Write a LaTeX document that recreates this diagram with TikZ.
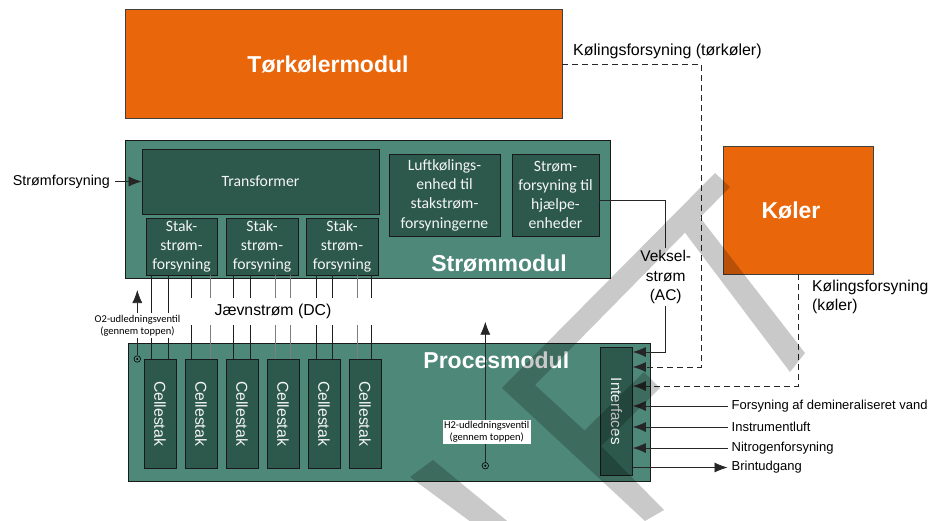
\documentclass[tikz,border=0pt]{standalone}
\usepackage{fontspec}
\usepackage{graphicx}
\setmainfont{Liberation Sans}
\newfontfamily\calfont{Carlito}
\usetikzlibrary{arrows.meta,calc}
\definecolor{orng}{RGB}{234,102,10}
\definecolor{tealm}{RGB}{78,136,120}
\definecolor{dkgrn}{RGB}{44,89,75}
\definecolor{lnblk}{RGB}{30,30,30}
\definecolor{lngry}{RGB}{125,125,125}
\definecolor{txtw}{RGB}{245,245,245}
\tikzset{
  modbox/.style={draw=black!90, line width=0.8pt, fill=tealm, inner sep=0pt},
  orbox/.style={draw=black!75, line width=0.7pt, fill=orng, inner sep=0pt},
  inbox/.style={draw=black!90, line width=0.8pt, fill=dkgrn, text=txtw, inner sep=0pt, align=center, font=\calfont\fontsize{15.7}{19.3}\selectfont},
  ttl/.style={text=white, font=\bfseries\fontsize{23}{27}\selectfont, inner sep=0pt},
  cellbox/.style={draw=black!90, line width=0.8pt, fill=dkgrn, text=txtw, inner sep=0pt, minimum width=32pt, minimum height=109pt, font=\fontsize{15.8}{18}\selectfont},
  conn/.style={draw=black!85, line width=0.7pt},
  arr/.style={-{Latex[length=13pt,width=10pt]}},
  dsh/.style={dash pattern=on 6pt off 4pt},
  lbl/.style={font=\fontsize{13}{15.5}\selectfont, inner xsep=4pt, inner ysep=2pt, anchor=west},
  valve/.style={circle, draw=black, line width=0.6pt, minimum size=6.5pt, inner sep=0pt, path picture={\fill[black] (path picture bounding box.center) circle (1.1pt);}},
  vlbl/.style={fill=white, align=center, inner sep=1.5pt, font=\calfont\fontsize{10.5}{12.3}\selectfont},
  wmark/.style={fill=black, fill opacity=0.21, draw=none},
}
\begin{document}
\begin{tikzpicture}[x=1pt,y=-1pt]
\useasboundingbox[fill=white] (0,0) rectangle (943,520);

% Tørkølermodul and Køler
\node[orbox, minimum width=437pt, minimum height=109pt] (tork) at (343.5,64) {};
\node[ttl] (torktxt) at (328,64) {Tørkølermodul};
\node[orbox, minimum width=150pt, minimum height=128pt] (koler) at (798,210) {};
\node[ttl] (kolertxt) at (791,210) {Køler};

% Strømmodul
\node[modbox, minimum width=485pt, minimum height=138pt] (strom) at (367.5,209) {};
\node[inbox, minimum width=237pt, minimum height=65pt] (transf) at (260.5,181.5) {Transformer};
\node[inbox, minimum width=71pt, minimum height=57pt] (stak1) at (181.5,246.5) {Stak-\\strøm-\\forsyning};
\node[inbox, minimum width=72pt, minimum height=57pt] (stak2) at (262,246.5) {Stak-\\strøm-\\forsyning};
\node[inbox, minimum width=72pt, minimum height=57pt] (stak3) at (342,246.5) {Stak-\\strøm-\\forsyning};
\node[inbox, minimum width=111pt, minimum height=82pt] (luft) at (444.5,195) {Luftkølings-\\enhed til\\stakstrøm-\\forsyningerne};
\node[inbox, minimum width=87pt, minimum height=82pt] (hjaelpe) at (555.5,195) {Strøm-\\forsyning til\\hjælpe-\\enheder};
\node[ttl] (stromtxt) at (499,263) {Strømmodul};

% Procesmodul
\node[modbox, minimum width=522pt, minimum height=138pt] (proces) at (389,412) {};
\node[ttl] (procestxt) at (496.3,360.7) {Procesmodul};
\node[cellbox] (cell1) at (160,413.5) {\rotatebox{-90}{Cellestak}};
\node[cellbox] (cell2) at (201,413.5) {\rotatebox{-90}{Cellestak}};
\node[cellbox] (cell3) at (242,413.5) {\rotatebox{-90}{Cellestak}};
\node[cellbox] (cell4) at (283,413.5) {\rotatebox{-90}{Cellestak}};
\node[cellbox] (cell5) at (324,413.5) {\rotatebox{-90}{Cellestak}};
\node[cellbox] (cell6) at (365,413.5) {\rotatebox{-90}{Cellestak}};
\node[cellbox, minimum height=127.5pt, font=\fontsize{15.2}{18}\selectfont] (interf) at (616.5,411.25) {\rotatebox{-90}{Interfaces}};

% DC lines
\foreach \xx/\ss/\cc/\col in {151/1/1/lnblk, 168/1/1/lnblk, 191/1/2/lnblk, 210/1/2/lngry, 233/2/3/lnblk, 250/2/3/lnblk, 275/2/4/lngry, 290/2/4/lngry, 316/3/5/lnblk, 332/3/5/lnblk, 357/3/6/lngry, 371/3/6/lnblk}
  \draw[line width=0.7pt, draw=\col] (\xx,0 |- stak\ss.south) -- (\xx,0 |- cell\cc.north);
\node[fill=white, minimum width=192pt, minimum height=27pt, inner sep=0pt, font=\fontsize{15.8}{18}\selectfont] (dc) at (281,311.5) {\hspace*{-16pt}Jævnstrøm (DC)};

% Strømforsyning input
\node[lbl, font=\fontsize{14.3}{17}\selectfont, inner xsep=2pt] (strfors) at (10.7,181.5) {Strømforsyning};
\draw[conn,arr,shorten <=3pt] (strfors.east) -- (transf.west);

% Cooling supplies
\node[lbl, font=\fontsize{16}{19}\selectfont, inner xsep=2pt] (lbltork) at (571,51.7) {Kølingsforsyning (tørkøler)};
\coordinate (tcorner) at (701,367);
\draw[conn,dsh,arr] (tork.east) -| (tcorner) -- (tcorner -| interf.east);
\node[lbl, font=\fontsize{15.7}{19.4}\selectfont, align=left, inner xsep=2pt] (lblkoler) at (810,297) {Kølingsforsyning\\(køler)};
\draw[conn,dsh,arr] (koler.south) |- ($(interf.east)+(0,-25.25)$);

% AC
\node[font=\fontsize{15.5}{19.5}\selectfont, align=center, inner sep=2pt] (ac) at (665.7,277) {Veksel-\\strøm\\(AC)};
\draw[conn] ($(hjaelpe.east)+(0,5.7)$) -| (ac.north);
\draw[conn,arr] (ac.south) |- ($(interf.east)+(0,-59.25)$);

% Right side supplies
\node[lbl] (demin) at (727.5,406) {Forsyning af demineraliseret vand};
\node[lbl] (instr) at (727.5,427) {Instrumentluft};
\node[lbl] (nitro) at (727.5,448) {Nitrogenforsyning};
\node[lbl] (brint) at (727.5,467.5) {Brintudgang};
\draw[conn,arr] (demin.west) -- (demin.west -| interf.east);
\draw[conn,arr] (instr.west) -- (instr.west -| interf.east);
\draw[conn,arr] (nitro.west) -- (nitro.west -| interf.east);
\draw[conn,arr] (brint.west -| interf.east) -- (brint.west);

% Valves
\node[valve] (o2v) at (137.3,359) {};
\coordinate (o2top) at (137.3,290);
\draw[conn,arr] (o2v) -- (o2top);
\node[vlbl] (o2l) at (137.5,325.5) {O2-udledningsventil\\(gennem toppen)};
\node[valve] (h2v) at (485.3,465.7) {};
\coordinate (h2top) at (485.3,321.7);
\draw[conn,arr] (h2v) -- (h2top);
\node[vlbl] (h2l) at (486.7,432) {H2-udledningsventil\\(gennem toppen)};

% Watermark
\begin{scope}
\clip (0,0) rectangle (943,520);
\fill[wmark] (502,388) -- (715,173) -- (730,187) -- (700,217.5) -- (805,353) -- (790,372) -- (685,232.7) -- (535,385) -- (584.5,430.5) -- (644,372) -- (660,388) -- (601,446) -- (664,510) -- (645,521) -- cycle;
\fill[wmark] (410,477) -- (433,460) -- (512,525) -- (475,525) -- cycle;
\end{scope}
\end{tikzpicture}
\end{document}
